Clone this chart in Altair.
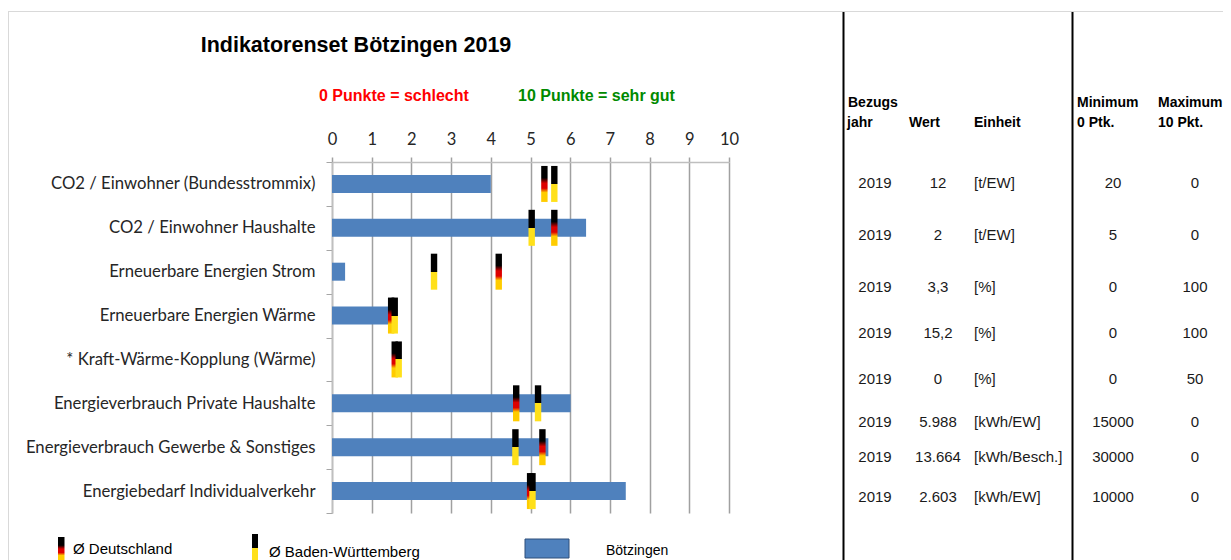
import altair as alt
import pandas as pd

# ---------------- data ----------------
indikatoren = [
    "CO2 / Einwohner (Bundesstrommix)",
    "CO2 / Einwohner Haushalte",
    "Erneuerbare Energien Strom",
    "Erneuerbare Energien Wärme",
    "* Kraft-Wärme-Kopplung (Wärme)",
    "Energieverbrauch Private Haushalte",
    "Energieverbrauch Gewerbe & Sonstiges",
    "Energiebedarf Individualverkehr",
]
punkte_boetzingen = [4.0, 6.4, 0.33, 1.52, 0.0, 6.01, 5.45, 7.40]
punkte_deutschland = [5.35, 5.6, 4.2, 1.49, 1.58, 4.64, 5.30, 4.99]
punkte_bw = [5.6, 5.03, 2.57, 1.58, 1.68, 5.19, 4.62, 5.05]

bezugsjahr = ["2019"] * 8
wert = ["12", "2", "3,3", "15,2", "0", "5.988", "13.664", "2.603"]
einheit = ["[t/EW]", "[t/EW]", "[%]", "[%]", "[%]", "[kWh/EW]", "[kWh/Besch.]", "[kWh/EW]"]
minimum = ["20", "5", "0", "0", "0", "15000", "30000", "10000"]
maximum = ["0", "0", "100", "100", "50", "0", "0", "0"]
x_ticks = list(range(0, 11))

# ---------------- layout (pixels relative to plot area origin) ----------------
TABLE_ROW_Y = [20.7, 73.3, 125.3, 171.3, 216.7, 259.7, 294.7, 335.3]
ARIAL = "Liberation Sans, Arial, sans-serif"
CALI = "Lato, Carlito, Calibri, sans-serif"
BLUE = "#4F81BD"

de_grad = alt.LinearGradient(
    gradient="linear", x1=0, x2=0, y1=0, y2=1,
    stops=[
        alt.GradientStop(offset=0, color="#000000"),
        alt.GradientStop(offset=0.33, color="#000000"),
        alt.GradientStop(offset=0.48, color="#dd0000"),
        alt.GradientStop(offset=0.62, color="#dd0000"),
        alt.GradientStop(offset=0.74, color="#ffcc00"),
        alt.GradientStop(offset=1, color="#ffcc00"),
    ],
)
bw_grad = alt.LinearGradient(
    gradient="linear", x1=0, x2=0, y1=0, y2=1,
    stops=[
        alt.GradientStop(offset=0, color="#000000"),
        alt.GradientStop(offset=0.5, color="#000000"),
        alt.GradientStop(offset=0.5, color="#ffe01a"),
        alt.GradientStop(offset=1, color="#ffe01a"),
    ],
)

df = pd.DataFrame({
    "Indikator": indikatoren,
    "Bötzingen": punkte_boetzingen,
    "Deutschland": punkte_deutschland,
    "BW": punkte_bw,
})
tbl = pd.DataFrame({
    "jahr": bezugsjahr, "wert": wert, "einheit": einheit,
    "min": minimum, "max": maximum, "row_y": TABLE_ROW_Y,
})
one = pd.DataFrame({"k": [0]})

y_scale = alt.Scale(domain=indikatoren, paddingInner=0, paddingOuter=0)
y_axis = alt.Axis(title=None, labelFont=CALI, labelFontSize=16.7, labelColor="#262626",
                  labelPadding=11, labelLimit=400, tickSize=6, tickBand="extent",
                  tickColor="#a6a6a6", domainColor="#bfbfbf", domainWidth=1.5)
x_scale = alt.Scale(domain=[0, 10], nice=False, zero=True)
x_axis = alt.Axis(orient="top", values=x_ticks, title=None, grid=True, gridColor="#a0a0a0",
                  gridWidth=1.5, domainColor="#bfbfbf", domainWidth=1.5, tickColor="#a0a0a0",
                  tickSize=5, tickWidth=1.5, labelFont=CALI, labelFontSize=16.5,
                  labelColor="#262626", labelPadding=10, format="d", labelOverlap=False,
                  labelFlush=False)


def y_enc():
    return alt.Y("Indikator:N", sort=indikatoren, scale=y_scale, axis=y_axis)


def x_enc(field):
    return alt.X(f"{field}:Q", scale=x_scale, axis=x_axis, title=None)


base = alt.Chart(df)
bars = base.mark_bar(size=18, color=BLUE).encode(x=x_enc("Bötzingen"), y=y_enc())
de_ticks = base.mark_tick(size=36, thickness=6.4, fill=de_grad, opacity=1, orient="vertical").encode(
    x=x_enc("Deutschland"), y=y_enc())
bw_ticks = base.mark_tick(size=36, thickness=6.4, fill=bw_grad, opacity=1, orient="vertical").encode(
    x=x_enc("BW"), y=y_enc())


def label(text, x, y, size=15, bold=False, color="#000000", align="left", font=ARIAL):
    return alt.Chart(pd.DataFrame({"t": [text]})).mark_text(
        align=align, baseline="middle", fontSize=size,
        fontWeight="bold" if bold else "normal", color=color, font=font,
    ).encode(x=alt.value(x), y=alt.value(y), text="t:N")


def hrule(x1, x2, y, color, w):
    return alt.Chart(one).mark_rule(color=color, strokeWidth=w).encode(
        x=alt.value(x1), x2=alt.value(x2), y=alt.value(y))


def vrule(x, y1, y2, color, w):
    return alt.Chart(one).mark_rule(color=color, strokeWidth=w).encode(
        x=alt.value(x), y=alt.value(y1), y2=alt.value(y2))


def box(x1, x2, y1, y2, fill, stroke=None):
    kw = {"fill": fill}
    if stroke:
        kw.update(stroke=stroke, strokeWidth=1)
    return alt.Chart(one).mark_rect(**kw).encode(
        x=alt.value(x1), x2=alt.value(x2), y=alt.value(y1), y2=alt.value(y2))


decor = [
    hrule(-324, 900, -150.5, "#d9d9d9", 1),
    vrule(-323.5, -150.5, 410, "#d9d9d9", 1),
    vrule(511.5, -150, 410, "#000000", 2),
    vrule(740.5, -150, 410, "#000000", 2),
]

titles = [
    label("Indikatorenset Bötzingen 2019", 24, -116, size=21.5, bold=True, align="center"),
    label("0 Punkte = schlecht", -13, -66, size=16, bold=True, color="#ff0000"),
    label("10 Punkte = sehr gut", 186, -66, size=16, bold=True, color="#008a00"),
]

headers = [
    label("Bezugs", 516, -59, size=14, bold=True),
    label("jahr", 515, -39, size=14, bold=True),
    label("Wert", 577, -39, size=14, bold=True),
    label("Einheit", 642, -39, size=14, bold=True),
    label("Minimum", 745, -59, size=14, bold=True),
    label("0 Ptk.", 745, -39, size=14, bold=True),
    label("Maximum", 826, -59, size=14, bold=True),
    label("10 Pkt.", 826, -39, size=14, bold=True),
]

tbase = alt.Chart(tbl).encode(y=alt.Y("row_y:Q", scale=None, axis=None))
table = [
    tbase.mark_text(align="center", baseline="middle", font=ARIAL, fontSize=15, color="#1a1a1a").encode(
        x=alt.value(543), text="jahr:N"),
    tbase.mark_text(align="center", baseline="middle", font=ARIAL, fontSize=15, color="#1a1a1a").encode(
        x=alt.value(606), text="wert:N"),
    tbase.mark_text(align="left", baseline="middle", font=ARIAL, fontSize=15, color="#1a1a1a").encode(
        x=alt.value(642), text="einheit:N"),
    tbase.mark_text(align="center", baseline="middle", font=ARIAL, fontSize=15, color="#1a1a1a").encode(
        x=alt.value(781), text="min:N"),
    tbase.mark_text(align="center", baseline="middle", font=ARIAL, fontSize=15, color="#1a1a1a").encode(
        x=alt.value(863), text="max:N"),
]

legend = [
    box(-274, -267.5, 375, 400, de_grad),
    label("Ø Deutschland", -259, 387, size=15),
    box(-80, -74, 372, 400, bw_grad),
    label("Ø Baden-Württemberg", -63, 390, size=15),
    box(193, 237, 377, 396, BLUE, stroke="#2f4f7a"),
    label("Bötzingen", 274, 389, size=14),
]

chart = alt.layer(
    *decor, bars, de_ticks, bw_ticks, *titles, *headers, *table, *legend
).properties(
    width=397, height=351,
    padding={"left": 324, "top": 154, "right": 494, "bottom": 47},
    autosize=alt.AutoSizeParams(type="none"),
    background="white",
).configure_view(stroke=None)

chart.save("out.html", embed_options={"renderer": "svg", "actions": False})
